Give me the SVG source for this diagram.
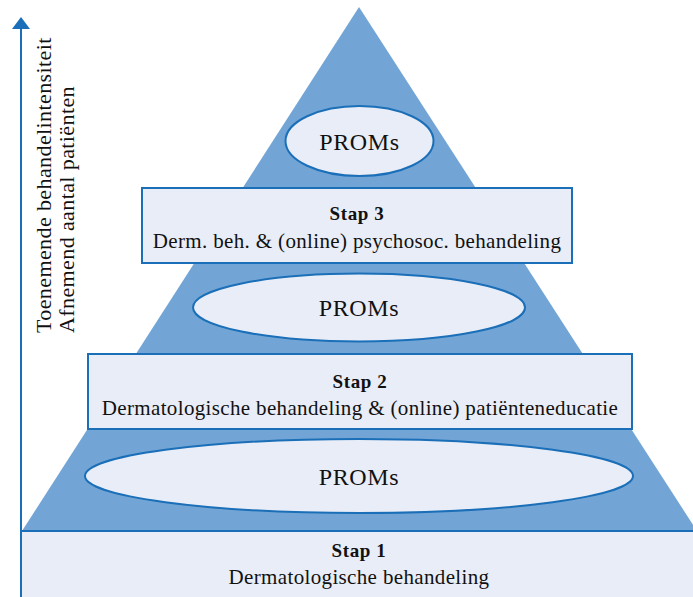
<svg xmlns="http://www.w3.org/2000/svg" width="693" height="597" viewBox="0 0 693 597">
<style>
.box{fill:#e9edf7;stroke:#1a6fb8;stroke-width:2}
.ell{fill:#e9edf7;stroke:#1a6fb8;stroke-width:2}
.t{font-family:"Liberation Serif","DejaVu Serif",serif;fill:#111;text-anchor:middle}
.b{font-weight:bold;font-size:19px;letter-spacing:0.6px}
.n{font-size:21px;letter-spacing:0.35px}
.p{font-size:24px;letter-spacing:0.6px}
.v{font-family:"Liberation Serif","DejaVu Serif",serif;fill:#111;font-size:22px;letter-spacing:0.4px}
</style>
<g id="pyramid"><polygon points="359,7 22,531 697,531" fill="#72a5d5"/></g>
<g id="connectors">
<line x1="21" y1="597" x2="21" y2="28" stroke="#1a6fb8" stroke-width="2"/>
<path d="M12,29 L21,17 L30,29 Z" fill="#1a6fb8"/>
</g>
<g id="axis-label">
<text class="v" transform="translate(51,333) rotate(-90)">Toenemende behandelintensiteit</text>
<text class="v" transform="translate(74,333) rotate(-90)">Afnemend aantal patiënten</text>
</g>
<g id="proms1"><ellipse class="ell" cx="359.5" cy="141" rx="74" ry="35"/><text class="t p" x="359.5" y="150">PROMs</text></g>
<g id="stap3"><rect class="box" x="142" y="188" width="430" height="75"/><text class="t b" x="357" y="220">Stap 3</text><text class="t n" x="357" y="248">Derm. beh. &amp; (online) psychosoc. behandeling</text></g>
<g id="proms2"><ellipse class="ell" cx="359" cy="307.5" rx="166" ry="34"/><text class="t p" x="359" y="316">PROMs</text></g>
<g id="stap2"><rect class="box" x="88" y="354" width="544" height="75"/><text class="t b" x="360" y="388">Stap 2</text><text class="t n" x="360" y="415">Dermatologische behandeling &amp; (online) patiënteneducatie</text></g>
<g id="proms3"><ellipse class="ell" cx="359" cy="476" rx="274" ry="37"/><text class="t p" x="359" y="485">PROMs</text></g>
<g id="stap1"><rect class="box" x="21" y="531" width="680" height="80"/><text class="t b" x="359" y="557">Stap 1</text><text class="t n" x="359" y="584">Dermatologische behandeling</text></g>
</svg>
